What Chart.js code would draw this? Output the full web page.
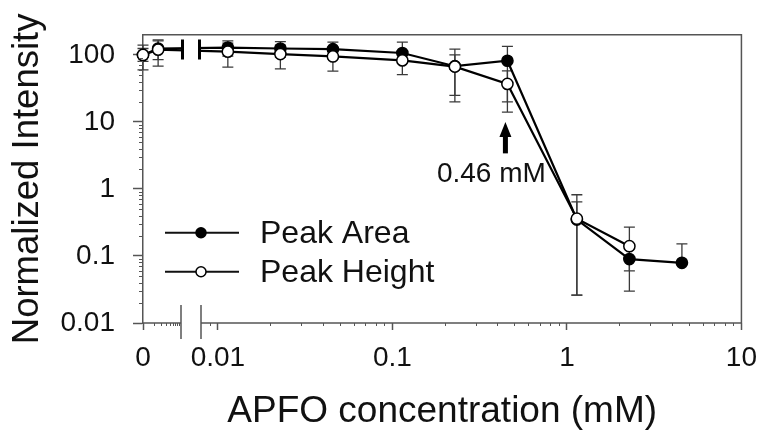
<!DOCTYPE html>
<html><head><meta charset="utf-8">
<script src="https://cdn.jsdelivr.net/npm/chart.js@4/dist/chart.umd.min.js"></script>
<style>html,body{margin:0;padding:0;background:#fff}</style>
</head><body>
<canvas id="c" width="768" height="440"></canvas>
<script>
// ---- data ----
const concentrations = [0, 0.002, 0.0114, 0.0228, 0.0456, 0.114, 0.228, 0.456, 1.14, 2.28, 4.56];
const areaValues  = [100, 125, 129, 125, 122, 107, 68, 82, 0.35, 0.090, 0.079];
const areaLow     = [80, 85, 96, 92, 88, 76, 20, 20, 0.026, 0.03, 0.079];
const areaHigh    = [125, 162, 162, 158, 156, 156, 122, 134, 0.64, 0.15, 0.152];
const heightValues = [100, 120, 112, 103, 95, 83, 67, 37, 0.36, 0.14];
const heightLow    = [60, 68, 66, 62, 57.5, 51, 25, 14, 0.026, 0.06];
const heightHigh   = [140, 168, 150, 140, 130, 115, 100, 58, 0.82, 0.27];
const seriesNames = ['Peak Area', 'Peak Height'];
const xTickValues = [0, 0.01, 0.1, 1, 10];
const xTickLabels = ['0', '0.01', '0.1', '1', '10'];
const yTickValues = [0.01, 0.1, 1, 10, 100];
const yTickLabels = ['0.01', '0.1', '1', '10', '100'];
const xMinorTicks = [0.0016, 0.0024, 0.0032, 0.004, 0.0048, 0.0056, 0.0064, 0.0072,
  0.009, 0.02, 0.03, 0.04, 0.05, 0.06, 0.07, 0.08, 0.09,
  0.2, 0.3, 0.4, 0.5, 0.6, 0.7, 0.8, 0.9, 2, 3, 4, 5, 6, 7, 8, 9];
const yMinorTicks = [0.02, 0.03, 0.04, 0.05, 0.06, 0.07, 0.08, 0.09,
  0.2, 0.3, 0.4, 0.5, 0.6, 0.7, 0.8, 0.9, 2, 3, 4, 5, 6, 7, 8, 9,
  20, 30, 40, 50, 60, 70, 80, 90];
const annotationX = 0.456, arrowTop = 10, arrowBottom = 3.4, annotationTextY = 1.65;
const annotationText = '0.46 mM';
const xTitle = 'APFO concentration (mM)';
const yTitle = 'Normalized Intensity';

// ---- broken x axis configuration (sizes in px) ----
const BRK = { segA: 38, gap: 20, aMin: 0.0008, split: 0.008, max: 10 };
const FONT = "'Liberation Sans', Arial, sans-serif";
const AXIS_COLOR = '#555';
const TEXT_COLOR = '#111';

class BrokenLogScale extends Chart.Scale {
  determineDataLimits() { this.min = 0; this.max = BRK.max; }
  buildTicks() { return xTickValues.map(v => ({ value: v })); }
  getLabelForValue(v) { return String(v); }
  getPixelForValue(v) {
    const L = this.left, R = this.right;
    if (!(v > BRK.aMin)) return L;
    if (v < BRK.split) return L + BRK.segA * Math.log10(v / BRK.aMin) / Math.log10(BRK.split / BRK.aMin);
    const s = L + BRK.segA + BRK.gap;
    return s + (R - s) * Math.log10(v / BRK.split) / Math.log10(BRK.max / BRK.split);
  }
  getValueForPixel(p) {
    const L = this.left, R = this.right, a = L + BRK.segA, s = a + BRK.gap;
    if (p <= L) return 0;
    if (p <= a) return BRK.aMin * Math.pow(BRK.split / BRK.aMin, (p - L) / BRK.segA);
    if (p < s) return BRK.split;
    return BRK.split * Math.pow(BRK.max / BRK.split, (p - s) / (R - s));
  }
}
BrokenLogScale.id = 'brokenLog';
BrokenLogScale.defaults = {};
Chart.register(BrokenLogScale);

const areaData = concentrations.map((c, i) => ({ x: c, y: areaValues[i] }));
const heightData = heightValues.map((v, i) => ({ x: concentrations[i], y: v }));

const errorSeries = [
  { values: areaValues, low: areaLow, high: areaHigh },
  { values: heightValues, low: heightLow, high: heightHigh }
];

const decor = {
  id: 'decor',
  beforeDatasetsDraw(chart) {
    const { ctx, scales: { x, y } } = chart;
    ctx.save();
    ctx.strokeStyle = '#3a3a3a';
    ctx.lineWidth = 1.3;
    errorSeries.forEach(s => {
      s.values.forEach((v, i) => {
        const px = x.getPixelForValue(concentrations[i]);
        const yl = y.getPixelForValue(s.low[i]);
        const yh = y.getPixelForValue(s.high[i]);
        ctx.beginPath();
        ctx.moveTo(px, yh); ctx.lineTo(px, yl);
        ctx.moveTo(px - 5.5, yh); ctx.lineTo(px + 5.5, yh);
        if (s.low[i] < v) { ctx.moveTo(px - 5.5, yl); ctx.lineTo(px + 5.5, yl); }
        ctx.stroke();
      });
    });
    ctx.restore();
  },
  afterDatasetsDraw(chart) {
    const { ctx, chartArea: ca, scales: { x, y } } = chart;
    const a = ca.left + BRK.segA, s = a + BRK.gap;
    ctx.save();
    const ys = [];
    chart.getSortedVisibleDatasetMetas().forEach(meta => {
      const pts = meta.data;
      for (let i = 0; i < pts.length - 1; i++) {
        [a, s].forEach(bx => {
          if (pts[i].x <= bx && pts[i + 1].x >= bx) {
            const t = (bx - pts[i].x) / (pts[i + 1].x - pts[i].x);
            ys.push(pts[i].y + t * (pts[i + 1].y - pts[i].y));
          }
        });
      }
    });
    ctx.fillStyle = '#fff';
    ctx.fillRect(a, ca.top + 1, s - a, ca.bottom - ca.top + 20);
    if (ys.length) {
      const mid = (Math.min(...ys) + Math.max(...ys)) / 2;
      ctx.strokeStyle = '#000'; ctx.lineWidth = 3;
      ctx.beginPath();
      ctx.moveTo(a + 1.5, mid - 10); ctx.lineTo(a + 1.5, mid + 10);
      ctx.moveTo(s - 1.5, mid - 10); ctx.lineTo(s - 1.5, mid + 10);
      ctx.stroke();
    }
    ctx.strokeStyle = AXIS_COLOR; ctx.lineWidth = 1.5;
    ctx.beginPath();
    ctx.moveTo(ca.left, ca.top); ctx.lineTo(ca.right, ca.top); ctx.lineTo(ca.right, ca.bottom);
    ctx.moveTo(s, ca.bottom); ctx.lineTo(ca.right, ca.bottom);
    ctx.moveTo(ca.left, ca.bottom); ctx.lineTo(a, ca.bottom);
    ctx.moveTo(a, ca.bottom - 18); ctx.lineTo(a, ca.bottom + 16);
    ctx.moveTo(s, ca.bottom - 18); ctx.lineTo(s, ca.bottom + 16);
    ctx.stroke();
    ctx.lineWidth = 1;
    ctx.beginPath();
    xMinorTicks.forEach(v => {
      const px = Math.round(x.getPixelForValue(v)) + 0.5;
      ctx.moveTo(px, ca.bottom); ctx.lineTo(px, ca.bottom + 3);
    });
    yMinorTicks.forEach(v => {
      const py = Math.round(y.getPixelForValue(v)) + 0.5;
      ctx.moveTo(ca.left, py); ctx.lineTo(ca.left - 4, py);
    });
    ctx.stroke();
    const legendItems = [
      { label: seriesNames[0], fill: '#000', dy: 198 },
      { label: seriesNames[1], fill: '#fff', dy: 237 }
    ];
    ctx.font = '32px ' + FONT;
    ctx.textBaseline = 'middle';
    ctx.textAlign = 'left';
    legendItems.forEach(it => {
      const ly = ca.top + it.dy;
      ctx.strokeStyle = '#111'; ctx.lineWidth = 2;
      ctx.beginPath(); ctx.moveTo(ca.left + 22, ly); ctx.lineTo(ca.left + 96, ly); ctx.stroke();
      ctx.beginPath(); ctx.arc(ca.left + 58, ly, 5, 0, Math.PI * 2);
      ctx.fillStyle = it.fill; ctx.fill(); ctx.lineWidth = 1.5; ctx.strokeStyle = '#000'; ctx.stroke();
      ctx.fillStyle = TEXT_COLOR;
      ctx.fillText(it.label, ca.left + 117, ly + 1);
    });
    const ax = x.getPixelForValue(annotationX) - 2;
    const tip = y.getPixelForValue(arrowTop), bot = y.getPixelForValue(arrowBottom);
    ctx.fillStyle = '#000';
    ctx.beginPath();
    ctx.moveTo(ax, tip); ctx.lineTo(ax + 6, tip + 15); ctx.lineTo(ax - 6, tip + 15); ctx.closePath(); ctx.fill();
    ctx.fillRect(ax - 2.5, tip + 12, 5, bot - tip - 12);
    ctx.font = '28px ' + FONT;
    ctx.textAlign = 'center';
    ctx.fillStyle = TEXT_COLOR;
    ctx.fillText(annotationText, ax - 14, y.getPixelForValue(annotationTextY));
    ctx.restore();
  }
};

new Chart(document.getElementById('c'), {
  type: 'line',
  data: {
    datasets: [
      { label: seriesNames[1], data: heightData, order: 0, borderColor: '#000', borderWidth: 2.2,
        pointRadius: 5.6, pointBackgroundColor: '#fff', pointBorderColor: '#000', pointBorderWidth: 1.5,
        tension: 0, clip: false },
      { label: seriesNames[0], data: areaData, order: 1, borderColor: '#000', borderWidth: 2.2,
        pointRadius: 5.6, pointBackgroundColor: '#000', pointBorderColor: '#000', pointBorderWidth: 1.5,
        tension: 0, clip: false }
    ]
  },
  options: {
    responsive: false,
    animation: false,
    devicePixelRatio: 1,
    layout: { padding: { top: 28, right: 22, left: 0, bottom: 0 } },
    plugins: { legend: { display: false }, tooltip: { enabled: false } },
    scales: {
      x: {
        type: 'brokenLog',
        position: 'bottom',
        afterFit: s => { s.height = 117; },
        border: { display: false },
        grid: { drawOnChartArea: false, drawTicks: true, tickLength: 7, tickColor: AXIS_COLOR, tickWidth: 1.5 },
        ticks: { autoSkip: false, maxRotation: 0, minRotation: 0, padding: 11,
          color: TEXT_COLOR, font: { family: FONT, size: 28 },
          callback: (v, i) => xTickLabels[i] },
        title: { display: true, text: xTitle, color: TEXT_COLOR,
          font: { family: FONT, size: 37 }, padding: { top: 0, bottom: 6 } }
      },
      y: {
        type: 'logarithmic',
        position: 'left',
        min: 0.01, max: 200,
        afterFit: s => { s.width = 143; },
        afterBuildTicks: s => { s.ticks = yTickValues.map(v => ({ value: v })); },
        border: { display: true, color: AXIS_COLOR, width: 1.5 },
        grid: { drawOnChartArea: false, drawTicks: true, tickLength: 10, tickColor: AXIS_COLOR, tickWidth: 1.5 },
        ticks: { autoSkip: false, padding: 18, color: TEXT_COLOR, font: { family: FONT, size: 28 },
          callback: (v, i) => yTickLabels[i] },
        title: { display: true, text: yTitle, color: TEXT_COLOR,
          font: { family: FONT, size: 36.5 }, padding: { top: 6, bottom: 0 } }
      }
    }
  },
  plugins: [decor]
});
</script>
</body></html>
